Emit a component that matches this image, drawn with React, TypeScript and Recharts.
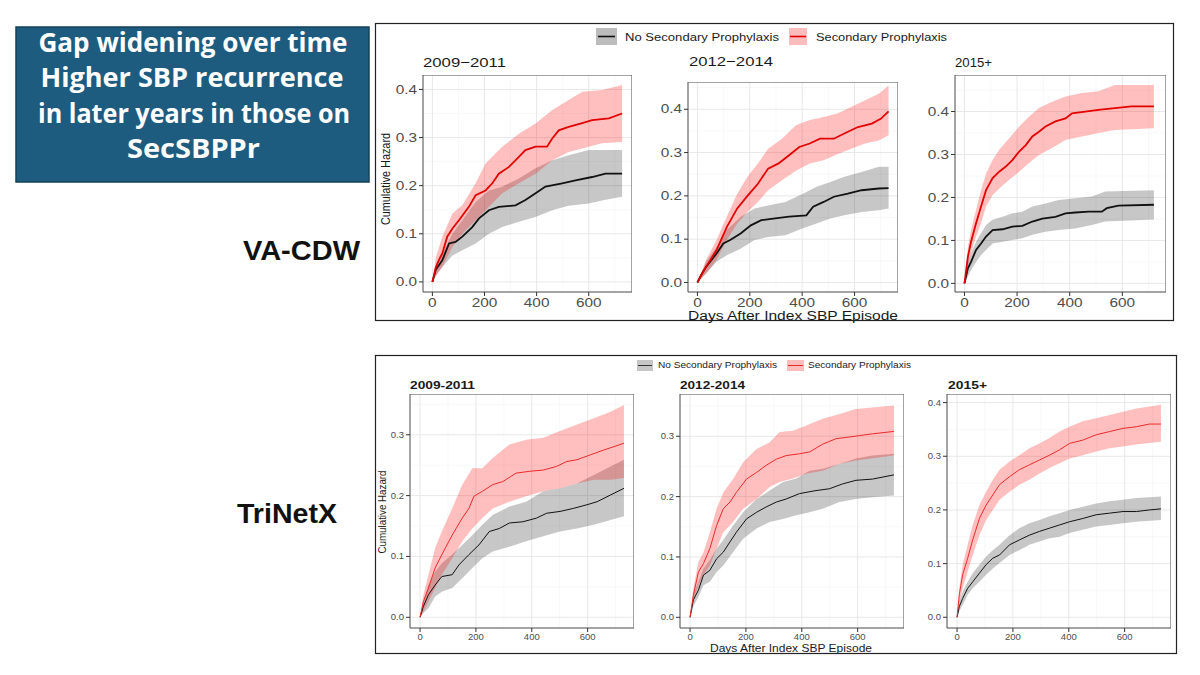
import React from 'react';
import { ComposedChart, Area, Line, XAxis, YAxis, CartesianGrid, ReferenceArea } from 'recharts';

// ---------- text ----------
const SERIES = ['No Secondary Prophylaxis', 'Secondary Prophylaxis'];
const TOP_TITLES = ['2009\u22122011', '2012\u22122014', '2015+'];
const BOTTOM_TITLES = ['2009-2011', '2012-2014', '2015+'];
const SOURCES = ['VA-CDW', 'TriNetX'];
const HEADLINE = ['Gap widening over time', 'Higher SBP recurrence', 'in later years in those on', 'SecSBPPr'];
const Y_LABEL = 'Cumulative Hazard';
const X_LABEL = 'Days After Index SBP Episode';

// ---------- ticks ----------
const X_TICKS = [0, 200, 400, 600];
const X_MINOR = [100, 300, 500, 700];
const Y_TICKS_04 = [0, 0.1, 0.2, 0.3, 0.4];
const Y_TICKS_03 = [0, 0.1, 0.2, 0.3];
const Y_MINOR_045 = [0.05, 0.15, 0.25, 0.35, 0.45];
const Y_MINOR_035 = [0.05, 0.15, 0.25, 0.35];

// ---------- VA-CDW 2009-2011 ----------
const va1SpLineDays = [0, 13, 26, 38, 57, 77, 102, 140, 166, 204, 230, 255, 294, 332, 357, 396, 440, 460, 485, 523, 575, 613, 677, 728];
const va1SpLine = [0, 0.03, 0.047, 0.059, 0.094, 0.111, 0.128, 0.156, 0.18, 0.19, 0.205, 0.225, 0.239, 0.26, 0.274, 0.281, 0.281, 0.298, 0.315, 0.322, 0.33, 0.336, 0.34, 0.35];
const va1SpBandDays = [0, 13, 38, 77, 115, 166, 204, 268, 332, 396, 460, 523, 575, 651, 728];
const va1SpLo = [0, 0.012, 0.031, 0.073, 0.1, 0.128, 0.149, 0.184, 0.205, 0.225, 0.253, 0.27, 0.277, 0.288, 0.291];
const va1SpHi = [0, 0.05, 0.094, 0.142, 0.16, 0.205, 0.246, 0.281, 0.308, 0.329, 0.357, 0.378, 0.395, 0.399, 0.409];
const va1NoLineDays = [0, 13, 38, 64, 89, 115, 153, 179, 217, 255, 319, 357, 396, 434, 498, 549, 613, 664, 728];
const va1NoLine = [0, 0.025, 0.045, 0.08, 0.083, 0.094, 0.114, 0.132, 0.149, 0.156, 0.159, 0.17, 0.184, 0.198, 0.205, 0.211, 0.218, 0.225, 0.225];
const va1NoBandDays = [0, 13, 38, 77, 115, 166, 217, 268, 332, 396, 460, 523, 600, 660, 728];
const va1NoLo = [0, 0.012, 0.031, 0.055, 0.066, 0.08, 0.1, 0.114, 0.125, 0.135, 0.149, 0.158, 0.163, 0.17, 0.177];
const va1NoHi = [0, 0.035, 0.059, 0.1, 0.128, 0.166, 0.19, 0.198, 0.215, 0.236, 0.253, 0.263, 0.274, 0.274, 0.274];

// ---------- VA-CDW 2012-2014 ----------
const va2SpLineDays = [0, 15, 33, 73, 112, 152, 191, 231, 270, 310, 350, 389, 429, 468, 521, 561, 613, 666, 700, 730];
const va2SpLine = [0, 0.018, 0.036, 0.075, 0.128, 0.171, 0.2, 0.228, 0.263, 0.275, 0.294, 0.313, 0.321, 0.332, 0.332, 0.344, 0.359, 0.367, 0.378, 0.395];
const va2SpBandDays = [0, 33, 73, 112, 152, 191, 231, 270, 323, 376, 429, 482, 534, 587, 640, 693, 730];
const va2SpLo = [0, 0.021, 0.052, 0.098, 0.136, 0.163, 0.186, 0.213, 0.236, 0.258, 0.275, 0.282, 0.296, 0.309, 0.321, 0.328, 0.34];
const va2SpHi = [0, 0.052, 0.098, 0.152, 0.205, 0.244, 0.275, 0.309, 0.332, 0.363, 0.375, 0.382, 0.39, 0.405, 0.421, 0.436, 0.455];
const va2NoLineDays = [0, 15, 33, 73, 99, 125, 165, 204, 244, 297, 350, 416, 442, 482, 521, 574, 627, 693, 730];
const va2NoLine = [0, 0.018, 0.036, 0.067, 0.09, 0.098, 0.113, 0.132, 0.144, 0.148, 0.152, 0.155, 0.175, 0.186, 0.198, 0.205, 0.213, 0.217, 0.218];
const va2NoBandDays = [0, 33, 73, 112, 165, 218, 270, 336, 403, 455, 508, 561, 627, 693, 730];
const va2NoLo = [0, 0.021, 0.048, 0.063, 0.078, 0.098, 0.105, 0.109, 0.125, 0.136, 0.148, 0.155, 0.163, 0.167, 0.171];
const va2NoHi = [0, 0.048, 0.082, 0.121, 0.152, 0.171, 0.178, 0.186, 0.205, 0.221, 0.232, 0.244, 0.255, 0.267, 0.267];

// ---------- VA-CDW 2015+ ----------
const va3SpLineDays = [0, 13, 25, 44, 63, 82, 107, 132, 157, 182, 208, 233, 258, 283, 308, 346, 384, 409, 459, 509, 572, 635, 720];
const va3SpLine = [0, 0.062, 0.097, 0.14, 0.179, 0.217, 0.245, 0.26, 0.272, 0.287, 0.307, 0.322, 0.342, 0.353, 0.365, 0.377, 0.384, 0.396, 0.4, 0.404, 0.408, 0.412, 0.412];
const va3SpBandDays = [0, 13, 25, 44, 63, 82, 107, 132, 170, 208, 245, 283, 333, 384, 447, 509, 572, 720];
const va3SpLo = [0, 0.039, 0.07, 0.109, 0.14, 0.179, 0.206, 0.221, 0.241, 0.26, 0.28, 0.299, 0.315, 0.334, 0.342, 0.35, 0.357, 0.361];
const va3SpHi = [0, 0.085, 0.124, 0.171, 0.217, 0.256, 0.287, 0.311, 0.338, 0.365, 0.388, 0.408, 0.423, 0.435, 0.443, 0.447, 0.462, 0.462];
const va3NoLineDays = [0, 13, 25, 44, 63, 82, 107, 145, 182, 220, 258, 296, 346, 384, 421, 472, 522, 541, 585, 720];
const va3NoLine = [0, 0.035, 0.05, 0.078, 0.093, 0.109, 0.124, 0.126, 0.132, 0.134, 0.144, 0.151, 0.155, 0.163, 0.165, 0.167, 0.167, 0.175, 0.181, 0.183];
const va3NoBandDays = [0, 13, 25, 44, 63, 82, 107, 145, 182, 220, 258, 308, 358, 421, 484, 535, 720];
const va3NoLo = [0, 0.016, 0.031, 0.05, 0.066, 0.078, 0.093, 0.097, 0.101, 0.105, 0.113, 0.12, 0.124, 0.128, 0.136, 0.144, 0.149];
const va3NoHi = [0, 0.05, 0.07, 0.097, 0.117, 0.136, 0.148, 0.155, 0.163, 0.167, 0.179, 0.186, 0.194, 0.198, 0.202, 0.214, 0.217];

// ---------- TriNetX 2009-2011 ----------
const tx1SpLineDays = [0, 12, 30, 54, 78, 115, 151, 175, 193, 223, 260, 296, 344, 393, 441, 489, 525, 562, 610, 658, 730];
const tx1SpLine = [0, 0.026, 0.048, 0.081, 0.103, 0.135, 0.163, 0.179, 0.199, 0.207, 0.218, 0.223, 0.237, 0.24, 0.242, 0.248, 0.256, 0.259, 0.267, 0.275, 0.286];
const tx1BandDays = [0, 12, 30, 54, 78, 115, 151, 187, 223, 260, 320, 380, 441, 501, 562, 622, 682, 730];
const tx1SpLo = [0, 0.009, 0.026, 0.048, 0.07, 0.097, 0.125, 0.146, 0.163, 0.179, 0.19, 0.199, 0.207, 0.212, 0.22, 0.226, 0.226, 0.229];
const tx1SpHi = [0, 0.037, 0.07, 0.114, 0.141, 0.179, 0.218, 0.245, 0.245, 0.262, 0.284, 0.292, 0.295, 0.306, 0.317, 0.327, 0.338, 0.349];
const tx1NoLineDays = [0, 12, 30, 54, 78, 115, 139, 175, 211, 248, 284, 320, 368, 417, 453, 501, 549, 598, 634, 682, 730];
const tx1NoLine = [0, 0.018, 0.037, 0.053, 0.067, 0.07, 0.086, 0.103, 0.119, 0.141, 0.146, 0.155, 0.157, 0.163, 0.171, 0.174, 0.179, 0.185, 0.19, 0.201, 0.212];
const tx1NoLo = [0, 0.007, 0.015, 0.034, 0.042, 0.048, 0.064, 0.081, 0.097, 0.108, 0.116, 0.125, 0.133, 0.141, 0.146, 0.152, 0.16, 0.166];
const tx1NoHi = [0, 0.026, 0.053, 0.075, 0.089, 0.103, 0.119, 0.135, 0.152, 0.168, 0.182, 0.19, 0.207, 0.212, 0.22, 0.234, 0.248, 0.259];

// ---------- TriNetX 2012-2014 ----------
const tx2SpLineDays = [0, 12, 30, 48, 71, 95, 119, 143, 166, 202, 238, 273, 309, 344, 392, 428, 475, 523, 558, 606, 653, 730];
const tx2SpLine = [0, 0.037, 0.075, 0.089, 0.114, 0.152, 0.18, 0.191, 0.207, 0.229, 0.24, 0.252, 0.262, 0.268, 0.271, 0.274, 0.287, 0.296, 0.298, 0.301, 0.304, 0.308];
const tx2SpBandDays = [0, 12, 30, 48, 71, 95, 119, 154, 190, 238, 285, 321, 368, 416, 475, 535, 594, 730];
const tx2SpLo = [0, 0.026, 0.053, 0.07, 0.086, 0.114, 0.141, 0.158, 0.18, 0.196, 0.216, 0.224, 0.23, 0.238, 0.243, 0.254, 0.26, 0.268];
const tx2SpHi = [0, 0.048, 0.092, 0.108, 0.141, 0.18, 0.207, 0.229, 0.257, 0.279, 0.29, 0.307, 0.309, 0.318, 0.329, 0.337, 0.345, 0.351];
const tx2NoLineDays = [0, 12, 30, 48, 71, 95, 119, 143, 166, 202, 238, 273, 309, 344, 392, 451, 499, 546, 594, 653, 730];
const tx2NoLine = [0, 0.029, 0.045, 0.07, 0.078, 0.097, 0.108, 0.125, 0.141, 0.163, 0.174, 0.183, 0.191, 0.196, 0.205, 0.21, 0.213, 0.221, 0.227, 0.229, 0.236];
const tx2NoBandDays = [0, 12, 30, 48, 71, 95, 119, 154, 190, 238, 285, 333, 380, 428, 475, 535, 594, 653, 730];
const tx2NoLo = [0, 0.018, 0.034, 0.053, 0.059, 0.075, 0.086, 0.108, 0.13, 0.147, 0.158, 0.163, 0.169, 0.174, 0.18, 0.191, 0.196, 0.199, 0.202];
const tx2NoHi = [0, 0.04, 0.059, 0.081, 0.095, 0.114, 0.128, 0.152, 0.174, 0.196, 0.21, 0.224, 0.23, 0.243, 0.246, 0.254, 0.263, 0.268, 0.271];

// ---------- TriNetX 2015+ ----------
const tx3LineDays = [0, 8, 20, 38, 56, 80, 104, 128, 152, 188, 223, 259, 295, 331, 367, 403, 450, 498, 546, 594, 642, 689, 730];
const tx3SpLine = [0, 0.042, 0.079, 0.11, 0.144, 0.184, 0.209, 0.228, 0.247, 0.262, 0.275, 0.284, 0.293, 0.302, 0.312, 0.324, 0.33, 0.34, 0.346, 0.352, 0.355, 0.36, 0.36];
const tx3NoLine = [0, 0.02, 0.035, 0.054, 0.066, 0.082, 0.098, 0.11, 0.116, 0.135, 0.144, 0.153, 0.16, 0.166, 0.172, 0.178, 0.184, 0.191, 0.194, 0.197, 0.197, 0.2, 0.202];
const tx3BandDays = [0, 8, 20, 38, 56, 80, 104, 128, 152, 188, 223, 259, 295, 331, 367, 403, 450, 498, 546, 594, 642, 730];
const tx3SpLo = [0, 0.026, 0.054, 0.085, 0.116, 0.153, 0.181, 0.2, 0.219, 0.234, 0.247, 0.256, 0.268, 0.278, 0.287, 0.296, 0.302, 0.309, 0.315, 0.318, 0.322, 0.327];
const tx3SpHi = [0, 0.054, 0.098, 0.135, 0.172, 0.209, 0.234, 0.256, 0.275, 0.29, 0.302, 0.315, 0.324, 0.334, 0.346, 0.355, 0.365, 0.371, 0.377, 0.383, 0.389, 0.396];
const tx3NoLo = [0, 0.011, 0.023, 0.042, 0.054, 0.066, 0.079, 0.091, 0.101, 0.116, 0.125, 0.135, 0.141, 0.147, 0.15, 0.157, 0.163, 0.169, 0.172, 0.175, 0.178, 0.181];
const tx3NoHi = [0, 0.029, 0.048, 0.066, 0.082, 0.098, 0.113, 0.125, 0.135, 0.153, 0.166, 0.175, 0.181, 0.188, 0.194, 0.2, 0.206, 0.212, 0.216, 0.219, 0.222, 0.225];

// ---------- builders ----------
const lineData = (days: number[], v: number[]) => days.map((d, i) => ({ d, v: v[i] }));
const bandData = (days: number[], lo: number[], hi: number[]) => days.map((d, i) => ({ d, band: [lo[i], hi[i]] }));

const X_DOMAIN: [number, number] = [-36, 766];
const FONT = "'Liberation Sans', Arial, Helvetica, sans-serif";
const CURVE = 'linear';

type Spec = {
  left: number; right: number; top: number; bottom: number;
  yDomain: [number, number]; yTicks: number[]; yMinor: number[]; big: boolean;
  noLine: any[]; spLine: any[]; noBand: any[]; spBand: any[];
};

const PANELS: Spec[] = [
  { left: 423, right: 632, top: 75, bottom: 292, yDomain: [-0.021, 0.43], yTicks: Y_TICKS_04, yMinor: Y_MINOR_035, big: true,
    noLine: lineData(va1NoLineDays, va1NoLine), spLine: lineData(va1SpLineDays, va1SpLine),
    noBand: bandData(va1NoBandDays, va1NoLo, va1NoHi), spBand: bandData(va1SpBandDays, va1SpLo, va1SpHi) },
  { left: 688, right: 898, top: 82, bottom: 292, yDomain: [-0.022, 0.463], yTicks: Y_TICKS_04, yMinor: Y_MINOR_045, big: true,
    noLine: lineData(va2NoLineDays, va2NoLine), spLine: lineData(va2SpLineDays, va2SpLine),
    noBand: bandData(va2NoBandDays, va2NoLo, va2NoHi), spBand: bandData(va2SpBandDays, va2SpLo, va2SpHi) },
  { left: 955, right: 1166, top: 75, bottom: 292, yDomain: [-0.02, 0.485], yTicks: Y_TICKS_04, yMinor: Y_MINOR_045, big: true,
    noLine: lineData(va3NoLineDays, va3NoLine), spLine: lineData(va3SpLineDays, va3SpLine),
    noBand: bandData(va3NoBandDays, va3NoLo, va3NoHi), spBand: bandData(va3SpBandDays, va3SpLo, va3SpHi) },
  { left: 410, right: 634, top: 394, bottom: 628, yDomain: [-0.0176, 0.367], yTicks: Y_TICKS_03, yMinor: Y_MINOR_035, big: false,
    noLine: lineData(tx1NoLineDays, tx1NoLine), spLine: lineData(tx1SpLineDays, tx1SpLine),
    noBand: bandData(tx1BandDays, tx1NoLo, tx1NoHi), spBand: bandData(tx1BandDays, tx1SpLo, tx1SpHi) },
  { left: 680, right: 904, top: 394, bottom: 628, yDomain: [-0.0177, 0.37], yTicks: Y_TICKS_03, yMinor: Y_MINOR_035, big: false,
    noLine: lineData(tx2NoLineDays, tx2NoLine), spLine: lineData(tx2SpLineDays, tx2SpLine),
    noBand: bandData(tx2NoBandDays, tx2NoLo, tx2NoHi), spBand: bandData(tx2SpBandDays, tx2SpLo, tx2SpHi) },
  { left: 947, right: 1171, top: 394, bottom: 628, yDomain: [-0.02, 0.416], yTicks: Y_TICKS_04, yMinor: Y_MINOR_035, big: false,
    noLine: lineData(tx3LineDays, tx3NoLine), spLine: lineData(tx3LineDays, tx3SpLine),
    noBand: bandData(tx3BandDays, tx3NoLo, tx3NoHi), spBand: bandData(tx3BandDays, tx3SpLo, tx3SpHi) },
];

const AxisTick = (props: any) => {
  const { x, y, payload, fs, sx, vertical } = props;
  const txt = vertical ? Number(payload.value).toFixed(1) : String(payload.value);
  return (
    <text
      transform={`translate(${x},${y}) scale(${sx},1)`}
      x={0}
      y={0}
      dy={vertical ? fs * 0.35 : fs * 0.75}
      textAnchor={vertical ? 'end' : 'middle'}
      fontSize={fs}
      fill="#4d4d4d"
      fontFamily={FONT}
    >
      {txt}
    </text>
  );
};

function Panel({ s }: { s: Spec }) {
  const yW = 40;
  const xH = 22;
  const fs = s.big ? 12 : 8.5;
  const sx = s.big ? 1.28 : 1.12;
  const lw = s.big ? 1.8 : 1;
  const red = s.big ? '#e30000' : '#ec2a2a';
  return (
    <div style={{ position: 'absolute', left: s.left - yW, top: s.top }}>
      <ComposedChart width={s.right - s.left + yW} height={s.bottom - s.top + xH} margin={{ top: 0, right: 0, bottom: 0, left: 0 }}>
        <CartesianGrid verticalValues={X_MINOR} horizontalValues={s.yMinor} stroke="#f3f3f3" strokeWidth={0.6} />
        <CartesianGrid stroke="#e8e8e8" strokeWidth={1} />
        <XAxis
          type="number"
          dataKey="d"
          domain={X_DOMAIN}
          ticks={X_TICKS}
          interval={0}
          allowDataOverflow
          axisLine={false}
          tickLine={{ stroke: '#333' }}
          tickSize={4}
          height={xH}
          tick={<AxisTick fs={fs} sx={sx} />}
        />
        <YAxis
          type="number"
          domain={s.yDomain}
          ticks={s.yTicks}
          interval={0}
          allowDataOverflow
          axisLine={false}
          tickLine={{ stroke: '#333' }}
          tickSize={4}
          width={yW}
          tick={<AxisTick fs={fs} sx={sx} vertical />}
        />
        <Area data={s.noBand} dataKey="band" type={CURVE} stroke="none" fill="#000000" fillOpacity={0.22} isAnimationActive={false} />
        <Area data={s.spBand} dataKey="band" type={CURVE} stroke="none" fill="#ff0000" fillOpacity={0.25} isAnimationActive={false} />
        <Line data={s.noLine} dataKey="v" type={CURVE} stroke="#111111" strokeWidth={lw} dot={false} isAnimationActive={false} />
        <Line data={s.spLine} dataKey="v" type={CURVE} stroke={red} strokeWidth={lw} dot={false} isAnimationActive={false} />
        <ReferenceArea x1={X_DOMAIN[0]} x2={X_DOMAIN[1]} y1={s.yDomain[0]} y2={s.yDomain[1]} fill="none" fillOpacity={0} stroke="#555555" strokeWidth={1} ifOverflow="visible" />
      </ComposedChart>
    </div>
  );
}

type T = { t: string; x: number; y: number; fs: number; len?: number; bold?: boolean; anchor?: string; rot?: boolean; color?: string; family?: string };

const TEXTS: T[] = [
  // top row
  { t: SERIES[0], x: 625, y: 41, fs: 11, len: 154 },
  { t: SERIES[1], x: 816, y: 41, fs: 11, len: 131 },
  { t: TOP_TITLES[0], x: 423, y: 67, fs: 13, len: 83 },
  { t: TOP_TITLES[1], x: 689, y: 66, fs: 13, len: 84 },
  { t: TOP_TITLES[2], x: 955, y: 66.5, fs: 13, len: 37 },
  { t: Y_LABEL, x: 385, y: 179, fs: 13, len: 92, anchor: 'middle', rot: true },
  { t: X_LABEL, x: 793, y: 319.5, fs: 12.5, len: 210, anchor: 'middle' },
  // bottom row
  { t: SERIES[0], x: 658, y: 368, fs: 9, len: 119 },
  { t: SERIES[1], x: 808, y: 368, fs: 9, len: 103 },
  { t: BOTTOM_TITLES[0], x: 410, y: 388.5, fs: 11.5, len: 65, bold: true },
  { t: BOTTOM_TITLES[1], x: 680, y: 388.5, fs: 11.5, len: 65, bold: true },
  { t: BOTTOM_TITLES[2], x: 948, y: 388.5, fs: 11.5, len: 39, bold: true },
  { t: Y_LABEL, x: 382, y: 512, fs: 10.5, len: 83, anchor: 'middle', rot: true },
  { t: X_LABEL, x: 791, y: 652, fs: 11, len: 162, anchor: 'middle' },
  // side labels
  { t: SOURCES[0], x: 243, y: 260, fs: 28, len: 117, bold: true, color: '#111' },
  { t: SOURCES[1], x: 237, y: 523, fs: 28, len: 100, bold: true, color: '#111' },
  // headline box
  { t: HEADLINE[0], x: 193, y: 52, fs: 26, len: 309, bold: true, anchor: 'middle', color: '#ffffff', family: "'Open Sans', sans-serif" },
  { t: HEADLINE[1], x: 192, y: 87, fs: 26, len: 303, bold: true, anchor: 'middle', color: '#ffffff', family: "'Open Sans', sans-serif" },
  { t: HEADLINE[2], x: 194, y: 123, fs: 26, len: 312, bold: true, anchor: 'middle', color: '#ffffff', family: "'Open Sans', sans-serif" },
  { t: HEADLINE[3], x: 193.5, y: 158, fs: 26, len: 133, bold: true, anchor: 'middle', color: '#ffffff', family: "'Open Sans', sans-serif" },
];

function Overlay() {
  return (
    <svg width={1200} height={675} style={{ position: 'absolute', left: 0, top: 0 }}>
      <rect x={0} y={0} width={1200} height={675} fill="#ffffff" />
      {/* headline box */}
      <rect x={16} y={27} width={353} height={155} fill="#1d5c7f" stroke="#14405a" strokeWidth={1.5} />
      {/* frames */}
      <rect x={375.5} y={23.5} width={798} height={297} fill="none" stroke="#222" strokeWidth={1.2} />
      <rect x={375.5} y={355.5} width={801} height={298} fill="none" stroke="#222" strokeWidth={1.2} />
      {/* top legend keys */}
      <rect x={596} y={28} width={21} height={17} fill="#bcbcbc" />
      <line x1={598} x2={615} y1={36.5} y2={36.5} stroke="#111" strokeWidth={1.6} />
      <rect x={789} y={28} width={18} height={17} fill="#fbbcbc" />
      <line x1={790} x2={806} y1={36.5} y2={36.5} stroke="#e30000" strokeWidth={1.6} />
      {/* bottom legend keys */}
      <rect x={637} y={360} width={16} height={11} fill="#c6c6c6" />
      <line x1={638} x2={652} y1={365.5} y2={365.5} stroke="#333" strokeWidth={1} />
      <rect x={787} y={360} width={17} height={11} fill="#fbbcbc" />
      <line x1={788} x2={803} y1={365.5} y2={365.5} stroke="#ec2a2a" strokeWidth={1} />
      {TEXTS.map((tx, i) => (
        <text
          key={i}
          x={tx.x}
          y={tx.y}
          fontSize={tx.fs}
          fontWeight={tx.bold ? 700 : 400}
          fill={tx.color || '#1a1a1a'}
          fontFamily={tx.family || FONT}
          textAnchor={(tx.anchor as any) || 'start'}
          textLength={tx.len}
          lengthAdjust="spacingAndGlyphs"
          dominantBaseline={tx.rot ? 'central' : undefined}
          transform={tx.rot ? `rotate(-90 ${tx.x} ${tx.y})` : undefined}
        >
          {tx.t}
        </text>
      ))}
    </svg>
  );
}

export default function App() {
  return (
    <div style={{ position: 'absolute', left: 0, top: 0, width: 1200, height: 675, background: '#fff', fontFamily: FONT, overflow: 'hidden' }}>
      <Overlay />
      {PANELS.map((s, i) => (
        <Panel key={i} s={s} />
      ))}
    </div>
  );
}
